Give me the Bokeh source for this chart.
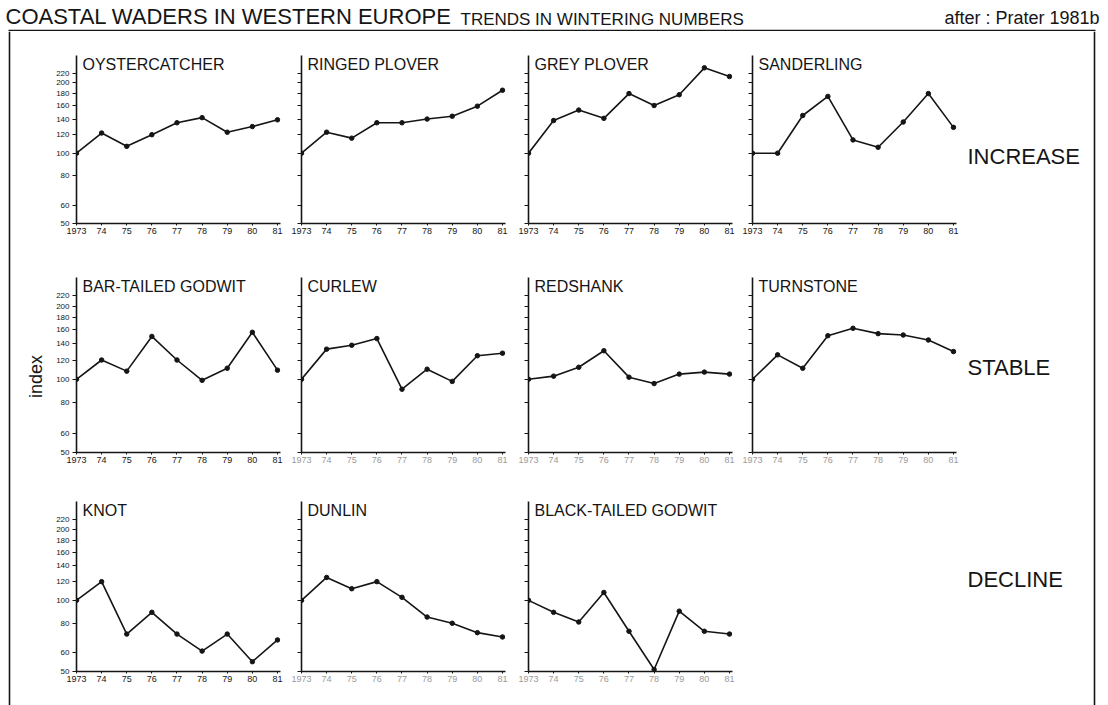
import math

from bokeh.embed import file_html
from bokeh.layouts import column, row
from bokeh.models import FixedTicker, Label, NumeralTickFormatter, Range1d, Spacer, Span
from bokeh.plotting import figure
from bokeh.resources import INLINE

# ---------------------------------------------------------------- data
years = [1973, 1974, 1975, 1976, 1977, 1978, 1979, 1980, 1981]
year_labels = ["1973", "74", "75", "76", "77", "78", "79", "80", "81"]
index_ticks = [50, 60, 80, 100, 120, 140, 160, 180, 200, 220]

# wintering index, 1973 = 100
oystercatcher = [100, 122, 107, 120, 135, 142, 123, 130, 139]
ringed_plover = [100, 123, 116, 135, 135, 140, 144, 159, 186]
grey_plover = [100, 138, 153, 141, 180, 160, 178, 232, 213]
sanderling = [100, 100, 145, 175, 114, 106, 136, 180, 129]

bar_tailed_godwit = [100, 120, 108, 150, 120, 99, 111, 156, 109]
curlew = [100, 133, 138, 147, 91, 110, 98, 125, 128]
redshank = [100, 103, 112, 131, 102, 96, 105, 107, 105]
turnstone = [100, 126, 111, 151, 162, 154, 152, 145, 130]

knot = [100, 120, 72, 89, 72, 61, 72, 55, 68]
dunlin = [100, 125, 112, 120, 103, 85, 80, 73, 70]
black_tailed_godwit = [100, 89, 81, 108, 74, 51, 90, 74, 72]

trend_groups = ["INCREASE", "STABLE", "DECLINE"]

# ---------------------------------------------------------------- style
FONT = "Liberation Sans"
INK = "#151515"
FAINT = "#9a9a9a"
Y_MIN, Y_MAX = 50, 262

STRIP_W = 46
# widths of the four panel columns and their borders (left, right)
COLS = [(239, 30, 5), (227, 16, 7), (224, 16, 4), (224, 16, 4)]
# per row: (top border, frame height, bottom border)
ROWS = [(24, 168, 27), (27, 175, 22), (27, 170, 34)]


def panel(name, values, col, rw, faint_years=False):
    width, left, right = COLS[col]
    top, frame_h, bottom = ROWS[rw]
    p = figure(
        width=width, height=top + frame_h + bottom,
        y_axis_type="log",
        x_range=Range1d(1973, 1981.12), y_range=Range1d(Y_MIN, Y_MAX),
        output_backend="svg", toolbar_location=None,
        min_border_left=left, min_border_right=right,
        min_border_top=top, min_border_bottom=bottom,
        background_fill_color="white", border_fill_color="white",
    )
    p.outline_line_color = None
    p.xgrid.visible = False
    p.ygrid.visible = False

    ax = p.yaxis[0]
    if col == 0:
        # labelled index scale on the first panel of each row
        ax.ticker = FixedTicker(ticks=index_ticks)
        ax.formatter = NumeralTickFormatter(format="0")
    else:
        # same scale marks, unlabelled
        ax.ticker = FixedTicker(ticks=[], minor_ticks=index_ticks)
    ax.axis_line_color = INK
    ax.axis_line_width = 1.6
    ax.major_tick_line_color = INK
    ax.major_tick_line_width = 1.2
    ax.major_tick_out = 4
    ax.major_tick_in = 0
    ax.minor_tick_line_color = INK
    ax.minor_tick_line_width = 1.2
    ax.minor_tick_out = 4
    ax.minor_tick_in = 0
    ax.major_label_standoff = 3
    ax.major_label_text_font = FONT
    ax.major_label_text_color = INK
    ax.major_label_text_font_size = "8px"

    xa = p.xaxis[0]
    xa.ticker = FixedTicker(ticks=years)
    xa.major_label_overrides = dict(zip(years, year_labels))
    xa.axis_line_color = INK
    xa.axis_line_width = 1.6
    xa.major_tick_line_color = INK
    xa.major_tick_out = 2
    xa.major_tick_in = 0
    xa.minor_tick_line_color = None
    xa.major_label_standoff = 2
    xa.major_label_text_font = FONT
    xa.major_label_text_font_size = "9px"
    xa.major_label_text_color = FAINT if faint_years else INK

    p.line(years, values, line_color=INK, line_width=1.6)
    p.scatter(years, values, size=4.5, color=INK)

    p.add_layout(Label(
        x=1973, y=Y_MAX, x_offset=6, text=name,
        text_baseline="top", text_align="left",
        text_font=FONT, text_font_size="16px", text_color=INK,
    ))
    return p


row1 = row(
    panel("OYSTERCATCHER", oystercatcher, 0, 0),
    panel("RINGED PLOVER", ringed_plover, 1, 0),
    panel("GREY PLOVER", grey_plover, 2, 0),
    panel("SANDERLING", sanderling, 3, 0),
)
row2 = row(
    panel("BAR-TAILED GODWIT", bar_tailed_godwit, 0, 1),
    panel("CURLEW", curlew, 1, 1, faint_years=True),
    panel("REDSHANK", redshank, 2, 1, faint_years=True),
    panel("TURNSTONE", turnstone, 3, 1, faint_years=True),
)
row3 = row(
    panel("KNOT", knot, 0, 2),
    panel("DUNLIN", dunlin, 1, 2, faint_years=True),
    panel("BLACK-TAILED GODWIT", black_tailed_godwit, 2, 2, faint_years=True),
    Spacer(width=COLS[3][0], height=sum(ROWS[2])),
)

BODY_H = sum(sum(r) for r in ROWS)
SIDE_W = 1108 - STRIP_W - sum(c[0] for c in COLS)


def blank(width, height):
    f = figure(
        width=width, height=height,
        x_range=Range1d(0, width), y_range=Range1d(0, height),
        output_backend="svg", toolbar_location=None,
        x_axis_location=None, y_axis_location=None,
        min_border=0,
    )
    f.outline_line_color = None
    f.xgrid.visible = False
    f.ygrid.visible = False
    return f


# left strip: frame edge and the shared axis caption
strip = blank(STRIP_W, BODY_H)
strip.add_layout(Span(location=9, dimension="height", line_color=INK, line_width=1.6))
strip.add_layout(Label(
    x=35, y=BODY_H - 345, text="index", angle=math.pi / 2,
    text_align="center", text_baseline="middle",
    text_font=FONT, text_font_size="18px", text_color=INK,
))

# right column: trend group captions and frame edge
side = blank(SIDE_W, BODY_H)
side.add_layout(Span(location=1094 - (1108 - SIDE_W), dimension="height",
                     line_color=INK, line_width=1.6))
for caption, centre in zip(trend_groups, [124.5, 336, 548]):
    side.add_layout(Label(
        x=7, y=BODY_H - centre, text=caption,
        text_align="left", text_baseline="middle",
        text_font=FONT, text_font_size="22px", text_color=INK,
    ))

# header: title, subtitle, source and the top frame edge
HEAD_H = 31
header = blank(1108, HEAD_H)
header.line([8, 1095], [1, 1], line_color=INK, line_width=1.6)
header.add_layout(Label(
    x=5, y=HEAD_H - 16, text="COASTAL WADERS IN WESTERN EUROPE",
    text_align="left", text_baseline="middle",
    text_font=FONT, text_font_size="22px", text_color=INK,
))
header.add_layout(Label(
    x=460, y=HEAD_H - 18.5, text="TRENDS IN WINTERING NUMBERS",
    text_align="left", text_baseline="middle",
    text_font=FONT, text_font_size="17px", text_color=INK,
))
header.add_layout(Label(
    x=1104, y=HEAD_H - 17.5, text="after : Prater  1981b",
    text_align="right", text_baseline="middle",
    text_font=FONT, text_font_size="18px", text_color=INK,
))

page = column(header, row(strip, column(row1, row2, row3), side))

open("out.html", "w").write(file_html(page, INLINE))
